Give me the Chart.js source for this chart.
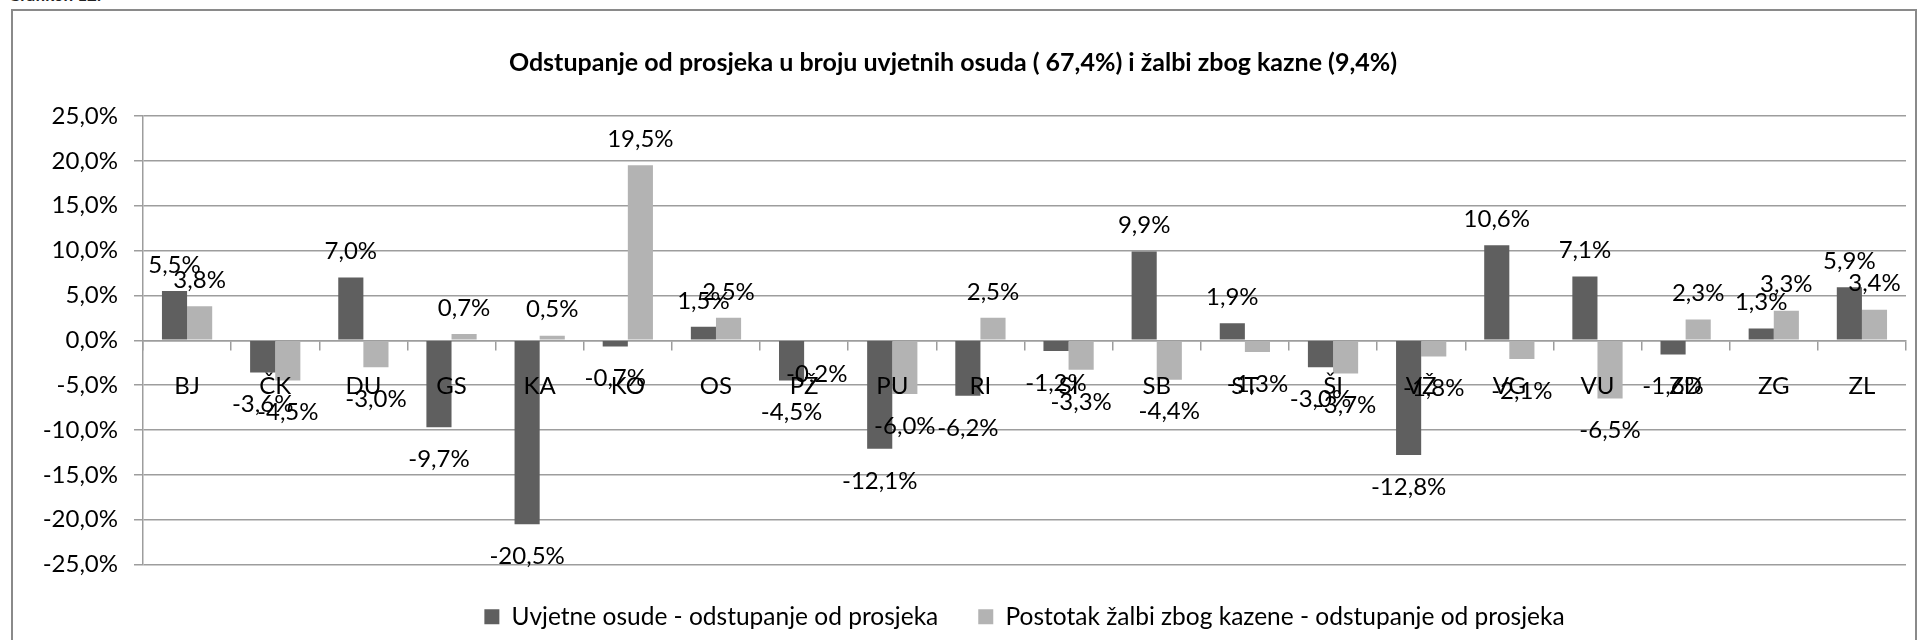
<!DOCTYPE html>
<html>
<head>
<meta charset="utf-8">
<title>Odstupanje od prosjeka</title>
<script src="https://cdn.jsdelivr.net/npm/chart.js@4.4.1/dist/chart.umd.min.js"></script>
<style>
  html, body { margin: 0; padding: 0; background: #fff; }
  body { width: 1919px; height: 640px; overflow: hidden; position: relative; }
  #caption { position: absolute; left: 8px; top: -16px; font: bold 17px Lato, sans-serif; color: #222; }
  #frame { position: absolute; left: 11px; top: 9px; width: 1906px; height: 700px;
           border: 2px solid #8a8a8a; box-sizing: border-box; }
  #chart { position: absolute; left: 0; top: 0; }
</style>
</head>
<body>
<div id="caption">Grafikon 12.</div>
<div id="frame"></div>
<canvas id="chart" width="1919" height="640"></canvas>
<script>
// courts
const categories = ['BJ', 'ČK', 'DU', 'GS', 'KA', 'KO', 'OS', 'PŽ', 'PU', 'RI',
                    'SI', 'SB', 'ST', 'ŠI', 'VŽ', 'VG', 'VU', 'ZD', 'ZG', 'ZL'];

// deviation from the average, in percentage points
const uvjetneOsude = [5.5, -3.6, 7.0, -9.7, -20.5, -0.7, 1.5, -4.5, -12.1, -6.2,
                      -1.2, 9.9, 1.9, -3.0, -12.8, 10.6, 7.1, -1.6, 1.3, 5.9];
const zalbeZbogKazne = [3.8, -4.5, -3.0, 0.7, 0.5, 19.5, 2.5, -0.2, -6.0, 2.5,
                        -3.3, -4.4, -1.3, -3.7, -1.8, -2.1, -6.5, 2.3, 3.3, 3.4];

const seriesNames = ['Uvjetne osude - odstupanje od prosjeka',
                     'Postotak žalbi zbog kazene - odstupanje od prosjeka'];

// value axis
const yMin = -25;
const yMax = 25;
const yStep = 5;

const titleText = 'Odstupanje od prosjeka u broju uvjetnih osuda ( 67,4%) i žalbi zbog kazne (9,4%)';

const FONT = 'Lato, "Open Sans", sans-serif';
const GRID = '#9d9d9d';

function pct(v) {
  return v.toFixed(1).replace('.', ',') + '%';
}

// value labels above positive bars, below negative ones
const valueLabels = {
  id: 'valueLabels',
  afterDatasetsDraw(chart) {
    const ctx = chart.ctx;
    ctx.save();
    ctx.font = '24px ' + FONT;
    ctx.fillStyle = '#000';
    ctx.textAlign = 'center';
    ctx.textBaseline = 'middle';
    chart.data.datasets.forEach((ds, i) => {
      chart.getDatasetMeta(i).data.forEach((bar, j) => {
        const v = ds.data[j];
        const y = v >= 0 ? bar.y - 26 : bar.y + 32;
        ctx.fillText(pct(v), bar.x, y);
      });
    });
    ctx.restore();
  }
};

new Chart(document.getElementById('chart'), {
  type: 'bar',
  data: {
    labels: categories,
    datasets: [
      { label: seriesNames[0], data: uvjetneOsude, backgroundColor: '#5f5f5f' },
      { label: seriesNames[1], data: zalbeZbogKazne, backgroundColor: '#b3b3b3' }
    ]
  },
  options: {
    responsive: false,
    animation: false,
    layout: { padding: { left: 0, right: 13, top: 0, bottom: 1 } },
    datasets: { bar: { categoryPercentage: 0.57, barPercentage: 1.0 } },
    scales: {
      x: {
        position: { y: 0 },
        offset: true,
        grid: { drawOnChartArea: false, drawTicks: true, tickLength: 9, offset: true,
                color: GRID, lineWidth: 1.5 },
        border: { display: true, color: GRID, width: 1.5 },
        // category names sit on top of the bars
        ticks: { z: 1, font: { family: FONT, size: 24 }, color: '#000', padding: 23,
                 maxRotation: 0, autoSkip: false }
      },
      y: {
        min: yMin,
        max: yMax,
        afterFit(scale) { scale.width = 143; },
        grid: { color: GRID, lineWidth: 1.5, tickLength: 9 },
        border: { display: true, color: GRID, width: 1.5 },
        ticks: { stepSize: yStep, padding: 16, color: '#000',
                 font: { family: FONT, size: 24 },
                 callback: v => pct(v) }
      }
    },
    plugins: {
      title: {
        display: true,
        text: titleText,
        color: '#000',
        font: { family: FONT, size: 25, weight: 'bold' },
        padding: { top: 48, bottom: 38 }
      },
      legend: {
        position: 'bottom',
        fullSize: false,
        labels: { font: { family: FONT, size: 24.5 }, color: '#000',
                  boxWidth: 15, boxHeight: 15, padding: 40 }
      },
      tooltip: { enabled: false }
    }
  },
  plugins: [valueLabels]
});
</script>
</body>
</html>
